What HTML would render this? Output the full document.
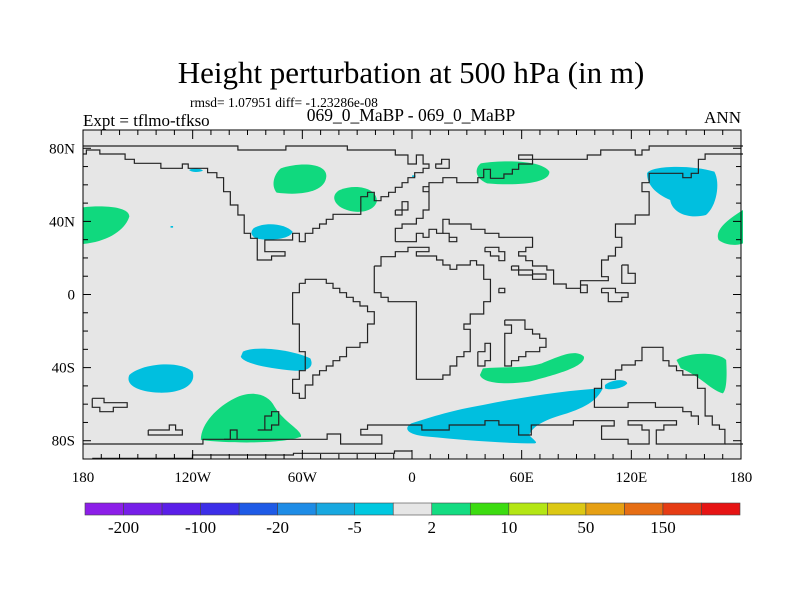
<!DOCTYPE html>
<html><head><meta charset="utf-8"><style>
body{margin:0;background:#fff;width:800px;height:600px;overflow:hidden}
svg{display:block}
text{font-family:"Liberation Serif",serif;fill:#000}
</style></head><body>
<svg id="chart" width="800" height="600">
<text x="411" y="83" font-size="31" text-anchor="middle">Height perturbation at 500 hPa (in m)</text>
<text x="190" y="107" font-size="13.5">rmsd= 1.07951 diff= -1.23286e-08</text>
<text x="83" y="126" font-size="17">Expt = tflmo-tfkso</text>
<text x="411" y="121" font-size="17.5" text-anchor="middle">069_0_MaBP - 069_0_MaBP</text>
<text x="741" y="123" font-size="17" text-anchor="end">ANN</text>
<rect x="83" y="130" width="658" height="329" fill="#e6e6e6"/>
<g transform="translate(83,130) scale(0.42092,0.33333)">
<g fill="#10d97e">
<path d="M470,115 C520,95 580,100 578,140 C575,185 520,198 460,188 C445,165 455,130 470,115Z"/>
<path d="M610,180 C650,160 700,175 698,215 C690,250 640,255 610,230 C590,210 595,190 610,180Z"/>
<path d="M0,232 C50,225 110,230 110,260 C100,300 60,335 0,342Z"/>
<path d="M945,100 C1000,90 1090,90 1108,125 C1110,160 1030,168 960,160 C930,145 930,115 945,100Z"/>
<path d="M1568,240 C1530,270 1500,300 1510,330 C1530,350 1560,345 1568,340Z"/>
<path d="M950,715 C1000,710 1050,715 1090,700 C1130,680 1170,655 1190,680 C1195,710 1120,735 1060,755 C1000,765 950,760 943,735Z"/>
<path d="M1410,690 C1440,665 1510,665 1528,690 C1530,730 1530,780 1520,790 C1490,780 1470,740 1420,715Z"/>
<path d="M360,805 C400,780 440,790 455,830 C480,880 520,900 518,920 C480,940 360,942 280,930 C280,880 320,830 360,805Z"/>
</g>
<g fill="#00bfdf">
<path d="M252,120 C260,113 280,115 285,122 C275,128 258,127 252,120Z"/>
<path d="M405,295 C430,275 480,280 498,305 C495,325 450,335 410,325 C398,315 398,305 405,295Z"/>
<path d="M380,665 C410,645 500,660 540,685 C550,710 535,725 500,722 C440,715 380,700 375,680Z"/>
<path d="M110,735 C140,700 230,690 260,725 C270,760 240,790 180,788 C130,785 100,765 110,735Z"/>
<path d="M1340,130 C1350,105 1450,105 1500,125 C1515,160 1505,230 1480,255 C1440,268 1400,250 1395,210 C1360,190 1340,165 1340,130Z"/>
<path d="M1240,765 C1255,748 1290,745 1293,760 C1285,775 1250,782 1240,775Z"/>
<path d="M780,880 C830,860 880,840 950,825 C1050,800 1150,780 1235,775 C1225,800 1210,825 1150,850 C1100,868 1070,885 1060,915 C1070,930 1085,940 1070,940 C1000,940 900,930 820,920 C770,915 760,895 780,880Z"/>
<path d="M208,288 L214,288 L214,293 L208,293Z"/>
<path d="M782,136 L790,136 L790,141 L782,141Z"/>
</g>
<g fill="none" stroke="#222" stroke-width="1.2" vector-effect="non-scaling-stroke">
<polyline vector-effect="non-scaling-stroke" points="0,48 368,48 368,60 482,60 482,48 628,48 628,60 742,60 742,75 772,75 772,102 792,102 792,75 808,75 808,102 822,102 822,115 808,115 808,128 788,128 788,143 772,143 772,158 758,158 758,172 742,172 742,187 726,187 726,200 708,200 708,212 692,212 692,187 676,187 676,200 660,200 660,253 594,253 594,268 578,268 578,282 562,282 562,295 546,295 546,310 528,310 528,335 514,335 514,310 498,310 498,330 432,330 432,365 480,365 480,378 448,378 448,390 414,390 414,325 398,325 398,310 383,310 383,255 368,255 368,225 350,225 350,185 334,185 334,143 318,143 318,128 296,128 296,115 250,115 250,102 236,102 236,115 185,115 185,100 122,100 122,88 100,88 100,72 40,72 40,60 8,60 8,72 0,72"/>
<polyline vector-effect="non-scaling-stroke" points="838,115 838,102 852,102 852,88 870,88 870,115 838,115"/>
<polyline vector-effect="non-scaling-stroke" points="742,240 758,240 758,215 772,215 772,240 758,240 758,255 742,255 742,240"/>
<polyline vector-effect="non-scaling-stroke" points="742,335 742,295 758,295 758,282 792,282 792,265 808,265 808,240 822,240 822,170 808,170 808,185 822,185"/>
<polyline vector-effect="non-scaling-stroke" points="822,170 822,158 855,158 855,143 888,143 888,158 938,158 938,143 952,143 952,118 968,118 968,145 1000,145 1000,132 1020,132 1020,118 1035,118 1035,102 1068,102 1068,75 1035,75 1035,88 1198,88 1198,75 1230,75 1230,60 1312,60 1312,75 1328,75 1328,60 1345,60 1345,48 1568,48"/>
<polyline vector-effect="non-scaling-stroke" points="1568,72 1478,72 1478,88 1462,88 1462,130 1445,130 1445,143 1425,143 1425,130 1345,130 1345,158 1328,158 1328,185 1345,185 1345,255 1312,255 1312,282 1265,282 1265,322 1280,322 1280,352 1265,352 1265,378 1248,378 1248,390 1232,390 1232,440 1248,440 1248,452 1182,452 1182,488 1198,488 1198,465 1182,465 1182,475 1148,475 1148,462 1118,462 1118,420 1102,420 1102,408 1068,408 1068,392 1052,392 1052,378 1035,378 1035,365 1052,365 1052,352 1068,352 1068,322 988,322 988,310 955,310 955,298 922,298 922,282 870,282 870,268 855,268 855,310 840,310 840,298 822,298 822,322 808,322 808,310 792,310 792,335 742,335"/>
<polyline vector-effect="non-scaling-stroke" points="855,310 870,310 870,322 888,322 888,335 870,335 870,322"/>
<polyline vector-effect="non-scaling-stroke" points="692,408 708,408 708,380 742,380 742,365 772,365 772,352 822,352 822,365 792,365 792,378 840,378 840,390 855,390 855,405 872,405 872,418 888,418 888,405 920,405 920,392 935,392 935,405 952,405 952,448 968,448 968,515 952,515 952,552 920,552 920,582 905,582 905,598 920,598 920,665 905,665 905,680 888,680 888,708 872,708 872,735 855,735 855,748 792,748 792,515 725,515 725,502 708,502 708,488 692,488 692,408"/>
<polyline vector-effect="non-scaling-stroke" points="514,460 528,460 528,448 578,448 578,460 594,460 594,475 610,475 610,488 626,488 626,502 642,502 642,515 658,515 658,528 676,528 676,545 692,545 692,582 676,582 676,638 658,638 658,652 626,652 626,680 610,680 610,692 594,692 594,708 578,708 578,722 562,722 562,735 546,735 546,765 528,765 528,805 514,805 514,790 498,790 498,748 514,748 514,722 528,722 528,665 514,665 514,582 498,582 498,488 514,488 514,460"/>
<polyline vector-effect="non-scaling-stroke" points="938,665 955,665 955,640 968,640 968,692 955,692 955,708 938,708 938,665"/>
<polyline vector-effect="non-scaling-stroke" points="1002,570 1050,570 1050,598 1068,598 1068,612 1085,612 1085,625 1100,625 1100,652 1085,652 1085,665 1052,665 1052,680 1035,680 1035,692 1018,692 1018,708 1002,708 1002,610 1018,610 1018,585 1002,585 1002,570"/>
<polyline vector-effect="non-scaling-stroke" points="1280,405 1295,405 1295,430 1312,430 1312,460 1280,460 1280,405"/>
<polyline vector-effect="non-scaling-stroke" points="1232,475 1265,475 1265,488 1295,488 1295,502 1280,502 1280,515 1248,515 1248,488 1232,488 1232,475"/>
<polyline vector-effect="non-scaling-stroke" points="988,475 1002,475 1002,488 988,488 988,475"/>
<polyline vector-effect="non-scaling-stroke" points="955,352 988,352 988,365 1002,365 1002,392 988,392 988,378 968,378 968,365 955,365 955,352"/>
<polyline vector-effect="non-scaling-stroke" points="1018,408 1035,408 1035,420 1068,420 1068,432 1100,432 1100,448 1068,448 1068,435 1035,435 1035,420 1018,420 1018,408"/>
<polyline vector-effect="non-scaling-stroke" points="22,805 50,805 50,818 105,818 105,832 72,832 72,845 40,845 40,832 22,832 22,805"/>
<polyline vector-effect="non-scaling-stroke" points="155,900 205,900 205,885 220,885 220,900 236,900 236,915 155,915 155,900"/>
<polyline vector-effect="non-scaling-stroke" points="415,900 432,900 432,858 448,858 448,845 465,845 465,885 448,885 448,900 415,900"/>
<polyline vector-effect="non-scaling-stroke" points="335,928 350,928 350,900 366,900 366,928"/>
<polyline vector-effect="non-scaling-stroke" points="0,942 285,942 285,928 580,928 580,912 612,912 612,942 710,942 710,915 660,915 660,898 676,898 676,885 805,885 805,900 870,900 870,885 955,885 955,872 988,872 988,885 1035,885 1035,915 1065,915 1065,885 1165,885 1165,872 1262,872 1262,888 1232,888 1232,928 1295,928 1295,942 1345,942 1345,900 1328,900 1328,885 1295,885 1295,872 1410,872 1410,885 1380,885 1380,900 1362,900 1362,942 1525,942 1525,898 1512,898 1512,885 1495,885 1495,858 1478,858 1478,775 1460,775 1460,735 1425,735 1425,722 1410,722 1410,708 1392,708 1392,692 1378,692 1378,652 1328,652 1328,692 1312,692 1312,705 1280,705 1280,720 1265,720 1265,748 1232,748 1232,775 1215,775 1215,832 1295,832 1295,818 1360,818 1360,832 1425,832 1425,845 1445,845 1445,858 1462,858 1462,885"/>
<polyline vector-effect="non-scaling-stroke" points="1525,942 1568,942"/>
<polyline vector-effect="non-scaling-stroke" points="22,985 260,985 260,975 500,975 500,970 740,970 740,963 782,963"/>
</g>
</g>
<rect x="83" y="130" width="658" height="329" fill="none" stroke="#000" stroke-width="1"/>
<g id="ticks" stroke="#000" stroke-width="1"></g>
<g id="labels" font-size="15"></g>
<g id="cbar"></g>
</svg>
<script>
const lonTicks=[-180,-120,-60,0,60,120,180];
const lonLabels=["180","120W","60W","0","60E","120E","180"];
const latTicks=[80,40,0,-40,-80];
const latLabels=["80N","40N","0","40S","80S"];
const cbarColors=["#8c1ee8","#761ee8","#5a1ee8","#3c2ee8","#1e5ae6","#1e8ce6","#18a8e0","#00c8e0","#e6e6e6","#14dc82","#3cdc10","#b4e614","#dcc814","#e6a014","#e66e14","#e63c14","#e61414"];
const cbarLabels=["-200","-100","-20","-5","2","10","50","150"];
const X0=83,X1=741,Y0=130,Y1=459;
const xs=l=>X0+(l+180)/360*(X1-X0);
const ys=a=>Y0+(90-a)/180*(Y1-Y0);
const NS="http://www.w3.org/2000/svg";
const tg=document.getElementById('ticks'),lg=document.getElementById('labels');
function ln(p,x1,y1,x2,y2){const e=document.createElementNS(NS,'line');e.setAttribute('x1',x1);e.setAttribute('y1',y1);e.setAttribute('x2',x2);e.setAttribute('y2',y2);


p.appendChild(e);}
function tx(p,x,y,s,anchor,name){const e=document.createElementNS(NS,'text');e.setAttribute('x',x);e.setAttribute('y',y);e.setAttribute('text-anchor',anchor);e.textContent=s;


p.appendChild(e);}
for(let l=-180;l<=180;l+=10){const L=(l%60===0)?9:5;ln(tg,xs(l),Y0,xs(l),Y0+L);ln(tg,xs(l),Y1,xs(l),Y1-L);}
for(let a=-90;a<=90;a+=10){const L=(a%40===0)?8:5;ln(tg,X0,ys(a),X0+L,ys(a));ln(tg,X1,ys(a),X1-L,ys(a));}
lonTicks.forEach((l,i)=>tx(lg,xs(l),482,lonLabels[i],'middle','lon-label-'+lonLabels[i]));
latTicks.forEach((a,i)=>tx(lg,75,ys(a)+5,latLabels[i],'end','lat-label-'+latLabels[i]));
const cg=document.getElementById('cbar');
const cx0=85,cx1=740,cy=503,ch=12,bw=(cx1-cx0)/cbarColors.length;
cbarColors.forEach((c,i)=>{const r=document.createElementNS(NS,'rect');r.setAttribute('x',cx0+i*bw);r.setAttribute('y',cy);r.setAttribute('width',bw);r.setAttribute('height',ch);r.setAttribute('fill',c);r.setAttribute('stroke','#444');r.setAttribute('stroke-width','0.6');


cg.appendChild(r);});
const cl=document.createElementNS(NS,'g');cl.setAttribute('font-size','17');cg.appendChild(cl);
cbarLabels.forEach((s,i)=>tx(cl,cx0+(2*i+1)*bw,533,s,'middle','colorbar-label'));
</script>
</body></html>
